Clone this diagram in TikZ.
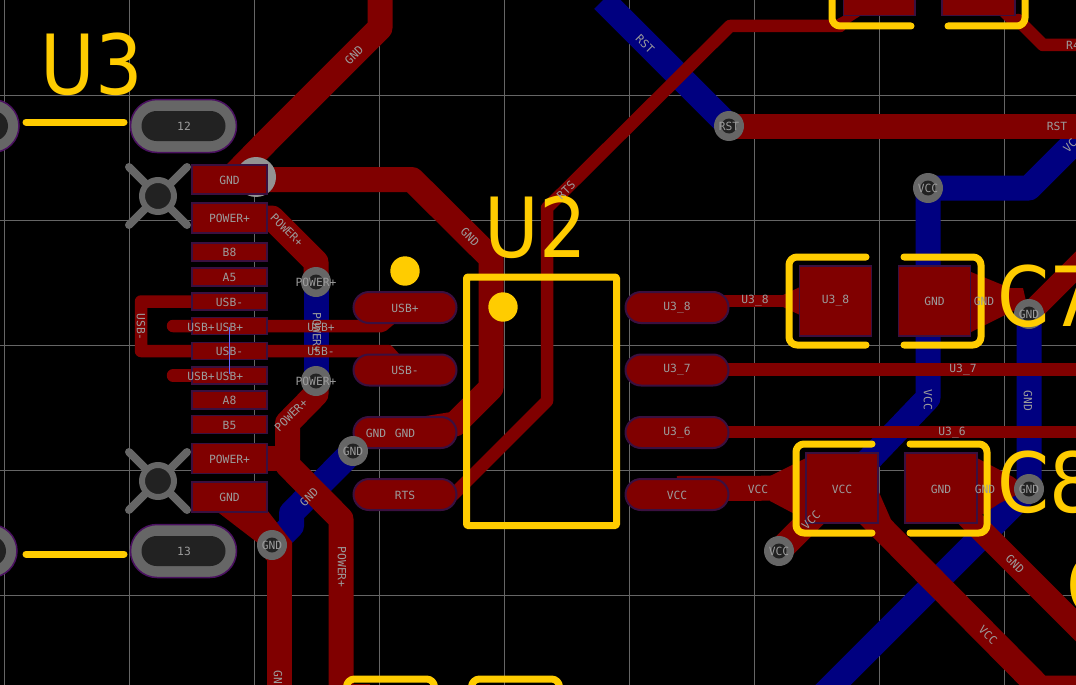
\documentclass[tikz,border=0pt]{standalone}
\usepackage{fontspec}
\usetikzlibrary{shapes.misc}
\newfontfamily\netfont{DejaVu Sans Mono}
\newfontfamily\silkfont{DejaVu Sans}
\definecolor{topcu}{HTML}{800000}
\definecolor{botcu}{HTML}{000080}
\definecolor{silk}{HTML}{FFCC00}
\definecolor{padedge}{HTML}{3A1040}
\definecolor{holeedge}{HTML}{4A1060}
\definecolor{viagray}{HTML}{666666}
\definecolor{holedark}{HTML}{222222}
\definecolor{netgray}{HTML}{9C9C9C}
\tikzset{
  gridline/.style={draw=viagray, line width=0.8pt},
  redwide/.style={draw=topcu, line width=25pt, line join=round},
  redthin/.style={draw=topcu, line width=12.5pt, line join=round, line cap=round},
  bluewide/.style={draw=botcu, line width=25pt, line join=round},
  smdpad/.style={rectangle, draw=padedge, fill=topcu, line width=1.5pt, inner sep=0pt, minimum width=75pt},
  capdpad/.style={rectangle, draw=padedge, fill=topcu, line width=1.5pt, inner sep=0pt, minimum width=72pt, minimum height=70pt},
  ovalpad/.style={rounded rectangle, draw=padedge, fill=topcu, line width=2pt, inner sep=0pt, minimum width=103pt, minimum height=31pt},
  slotpad/.style={rounded rectangle, draw=holeedge, fill=viagray, line width=1.5pt, inner sep=0pt, minimum width=106pt, minimum height=53pt},
  slothole/.style={rounded rectangle, fill=holedark, inner sep=0pt, minimum width=84pt, minimum height=30pt},
  via/.style={circle, fill=viagray, inner sep=0pt, minimum size=30pt},
  viahole/.style={circle, fill=holedark, inner sep=0pt, minimum size=15pt},
  mounthole/.style={circle, fill=holedark, draw=viagray, line width=6pt, inner sep=0pt, minimum size=32pt},
  arm/.style={draw=viagray, line width=8pt, line cap=round},
  silkline/.style={draw=silk, line width=7pt, line cap=round, line join=round, rounded corners=8pt},
  silktext/.style={text=silk, inner sep=0pt, font=\silkfont\fontsize{83}{83}\selectfont, xscale=0.9},
  netlabel/.style={text=netgray, inner sep=0pt, font=\netfont\fontsize{11.3}{12}\selectfont},
}
\begin{document}
\begin{tikzpicture}[x=1pt,y=-1pt]
\useasboundingbox (0,0) rectangle (1076,685);
\clip (0,0) rectangle (1076,685);
\fill[black] (0,0) rectangle (1076,685);
\draw[gridline] (4,0) -- (4,685) (129,0) -- (129,685) (254,0) -- (254,685);
\draw[gridline] (379,0) -- (379,685) (504,0) -- (504,685) (629,0) -- (629,685);
\draw[gridline] (754,0) -- (754,685) (879,0) -- (879,685) (1004,0) -- (1004,685);
\draw[gridline] (0,95) -- (1076,95) (0,220) -- (1076,220) (0,345) -- (1076,345);
\draw[gridline] (0,470) -- (1076,470) (0,595) -- (1076,595);

\coordinate (viaPowerTop) at (316,282);
\coordinate (viaPowerBot) at (316,381);
\coordinate (viaGndMid) at (353,451);
\coordinate (viaGndLow) at (272,545);
\coordinate (viaRst) at (729,126);
\coordinate (viaVccTop) at (928,188);
\coordinate (viaGndC7) at (1029,314);
\coordinate (viaGndC8) at (1029,489);
\coordinate (viaVccLow) at (779,551);
\coordinate (padGndTop) at (229.5,179.5);
\coordinate (padPowerTop) at (229.5,218);
\coordinate (padPowerBot) at (229.5,458.5);
\coordinate (capU38) at (835.5,301);
\coordinate (capGndC7) at (934.5,301);
\coordinate (capVcc) at (842,488);
\coordinate (capGndC8) at (939,488);

% bottom copper
\draw[bluewide] (603,0) -- (viaRst);
\draw[bluewide] (1090,127) -- (1029,188) -- (viaVccTop) -- (928,398) -- (capVcc);
\draw[bluewide] (viaGndC7) -- (viaGndC8) -- (820,698);
\draw[bluewide] (viaPowerTop) -- (viaPowerBot);
\draw[bluewide] (viaGndMid) -- (291.5,513) -- (291.5,526) -- (viaGndLow);

% top copper
\draw[redwide] (380,-5) -- (380,28) -- (268,140) -- (padGndTop);
\draw[redwide] (padGndTop) -- (412,179.5) -- (491,258) -- (491,388) -- (455,424) -- (405,432);
\draw[redwide] (padPowerTop) -- (272,218) -- (316,262) -- (viaPowerTop);
\draw[redwide] (viaPowerBot) -- (316,394) -- (287.5,423) -- (287.5,465) -- (341,519) -- (341,695);
\draw[redwide] (padPowerBot) -- (287.5,458.5);
\fill[topcu] (215,510) -- (258,543) -- (266,560) -- (292,560) -- (292,542) -- (267,510) -- cycle;
\draw[redwide] (279,545) -- (279,695);
\draw[redthin] (229,301.5) -- (141,301.5) -- (141,351) -- (388,351) -- (405,370);
\draw[redthin] (173,326) -- (382,326) -- (405,307);
\draw[redthin] (173,375.5) -- (229,375.5);
\draw[redthin] (405,495) -- (453,495) -- (547,401) -- (547,208) -- (730,26) -- (840,26);
\draw[redthin] (1018,20) -- (1043,45) -- (1085,45);
\draw[redwide] (viaRst) -- (1085,126);
\draw[redthin] (677,301) -- (capU38);
\fill[topcu] (783,295) -- (800,287) -- (800,315) -- (783,307) -- cycle;
\draw[redthin] (677,369.5) -- (1085,369.5);
\draw[redthin] (677,432) -- (1085,432);
\draw[redwide] (677,488.5) -- (capVcc);
\fill[topcu] (770,476) -- (806,458) -- (806,520) -- (770,501) -- cycle;
\draw[redwide] (830,500) -- (viaVccLow);
\draw[redwide] (capVcc) -- (1040,688) -- (1090,688);
\fill[topcu] (878,490) -- (892,522) -- (878,522) -- cycle;
\draw[redwide, line width=23pt] (capGndC8) -- (1100,649);
\fill[topcu] (977,458) -- (1013,477) -- (viaGndC8) -- (1000,503) -- (977,518) -- cycle;
\fill[topcu] (971,272) -- (1010,288) -- (1023,288) -- (viaGndC7) -- (1013,311) -- (971,332) -- cycle;
\draw[draw=topcu, line width=22pt] (viaGndC7) -- (1090,253);
\fill[topcu] (835,32) -- (860,16) -- (843,16) -- (832,22) -- cycle;
\fill[topcu] (1000,16) -- (1016,16) -- (1026,28) -- (1012,28) -- cycle;
\fill[topcu] (352,684) rectangle (370,690);

% small pads clipped by the top edge
\fill[topcu] (843.5,-5) rectangle (915,15.5);
\fill[topcu] (942,-5) rectangle (1015,15.5);
\draw[padedge, line width=1.5pt] (843.5,-5) -- (843.5,15.5) -- (915,15.5) -- (915,-5);
\draw[padedge, line width=1.5pt] (942,-5) -- (942,15.5) -- (1015,15.5) -- (1015,-5);

% connector pads
\fill[gray!85!white] (256,177) circle (20pt);
\node[smdpad, minimum height=29pt] (padGndA) at (padGndTop) {};
\node[smdpad, minimum height=30pt] (padPowerA) at (padPowerTop) {};
\node[smdpad, minimum height=18pt] (padBeight) at (229.5,252) {};
\node[smdpad, minimum height=18pt] (padAfive) at (229.5,277) {};
\node[smdpad, minimum height=17pt] (padUsbMinA) at (229.5,301.5) {};
\node[smdpad, minimum height=17pt] (padUsbPlusA) at (229.5,326) {};
\node[smdpad, minimum height=17pt] (padUsbMinB) at (229.5,351) {};
\node[smdpad, minimum height=17pt] (padUsbPlusB) at (229.5,375.5) {};
\node[smdpad, minimum height=18pt] (padAeight) at (229.5,400) {};
\node[smdpad, minimum height=18pt] (padBfive) at (229.5,424.5) {};
\node[smdpad, minimum height=30pt] (padPowerB) at (padPowerBot) {};
\node[smdpad, minimum height=30pt] (padGndB) at (229.5,497) {};
\draw[blue!60!white, line width=1pt] (229,327) -- (229,374);

\node[slotpad] (slotLeftA) at (-34,126) {};
\node[slothole] at (slotLeftA) (slotLeftAhole) {};
\node[slotpad] (slotA) at (183.5,126) {};
\node[slothole] at (slotA) (slotAhole) {};
\node[slotpad] (slotLeftB) at (-36,551) {};
\node[slothole] at (slotLeftB) (slotLeftBhole) {};
\node[slotpad] (slotB) at (183.5,551) {};
\node[slothole] at (slotB) (slotBhole) {};

\coordinate (mountA) at (158,196);
\coordinate (mountB) at (158,481);
\draw[arm] (129,167) -- (187,225) (187,167) -- (129,225);
\draw[arm] (129,452) -- (187,510) (187,452) -- (129,510);
\node[mounthole] (mountHoleA) at (mountA) {};
\node[mounthole] (mountHoleB) at (mountB) {};

% chip pads
\node[ovalpad] (u2Usbp) at (405,307.5) {};
\node[ovalpad] (u2Usbm) at (405,370) {};
\node[ovalpad] (u2Gnd) at (405,432.5) {};
\node[ovalpad] (u2Rts) at (405,494.5) {};
\node[ovalpad] (u2Eight) at (677,307.5) {};
\node[ovalpad] (u2Seven) at (677,370) {};
\node[ovalpad] (u2Six) at (677,432.5) {};
\node[ovalpad] (u2Vcc) at (677,494.5) {};

% capacitor pads
\node[capdpad] (c7Left) at (capU38) {};
\node[capdpad] (c7Right) at (capGndC7) {};
\node[capdpad] (c8Left) at (capVcc) {};
\node[capdpad] (c8Right) at (941,488) {};

% vias
\node[via] (viaA) at (viaPowerTop) {};
\node[viahole] (viaAhole) at (viaA) {};
\node[via] (viaB) at (viaPowerBot) {};
\node[viahole] (viaBhole) at (viaB) {};
\node[via] (viaC) at (viaGndMid) {};
\node[viahole] (viaChole) at (viaC) {};
\node[via] (viaD) at (viaGndLow) {};
\node[viahole] (viaDhole) at (viaD) {};
\node[via] (viaE) at (viaRst) {};
\node[viahole] (viaEhole) at (viaE) {};
\node[via] (viaF) at (viaVccTop) {};
\node[viahole] (viaFhole) at (viaF) {};
\node[via] (viaG) at (viaGndC7) {};
\node[viahole] (viaGhole) at (viaG) {};
\node[via] (viaH) at (viaGndC8) {};
\node[viahole] (viaHhole) at (viaH) {};
\node[via] (viaI) at (viaVccLow) {};
\node[viahole] (viaIhole) at (viaI) {};

% silkscreen
\draw[silkline, rounded corners=1pt] (466.5,277) rectangle (616.5,525.5);
\fill[silk] (503,307) circle (14.7pt);
\fill[silk] (405,271) circle (14.7pt);
\draw[silkline] (26,122) -- (124,122);
\draw[silkline] (26,554) -- (124,554);
\draw[silkline] (866,257) -- (789,257) -- (789,345) -- (866,345);
\draw[silkline] (904,257) -- (981,257) -- (981,345) -- (904,345);
\draw[silkline] (872,444) -- (796,444) -- (796,533) -- (872,533);
\draw[silkline] (910,444) -- (987,444) -- (987,533) -- (910,533);
\draw[silkline] (832,-10) -- (832,26) -- (911,26);
\draw[silkline] (948,26) -- (1025,26) -- (1025,-10);
\draw[silkline] (346.5,695) -- (346.5,679) -- (434.5,679) -- (434.5,695);
\draw[silkline] (471.5,695) -- (471.5,679) -- (559.5,679) -- (559.5,695);
\node[silktext, anchor=center] (nameU3) at (92,64) {U3};
\node[silktext, anchor=center] (nameU2) at (535.5,227) {U2};
\node[silktext, anchor=west] (nameC7) at (997,296) {C7};
\node[silktext, anchor=west] (nameC8) at (997,482) {C8};
\node[silktext, anchor=west] (nameC9) at (1066,585) {C};

% net names
\node[netlabel] (t01) at (184,126) {12};
\node[netlabel] (t02) at (184,551) {13};
\node[netlabel, rotate=45] (t03) at (354,55) {GND};
\node[netlabel] (t04) at (229.5,180) {GND};
\node[netlabel] (t05) at (229.5,218) {POWER+};
\node[netlabel, rotate=-45] (t06) at (287,230) {POWER+};
\node[netlabel] (t07) at (229.5,252) {B8};
\node[netlabel] (t08) at (229.5,277) {A5};
\node[netlabel] (t09) at (229.5,302) {USB-};
\node[netlabel] (t10) at (229.5,327) {USB+};
\node[netlabel] (t11) at (201,327) {USB+};
\node[netlabel] (t12) at (229.5,351) {USB-};
\node[netlabel] (t13) at (229.5,376) {USB+};
\node[netlabel] (t14) at (201,376) {USB+};
\node[netlabel] (t15) at (229.5,400) {A8};
\node[netlabel] (t16) at (229.5,425) {B5};
\node[netlabel] (t17) at (229.5,459) {POWER+};
\node[netlabel] (t18) at (229.5,497) {GND};
\node[netlabel, rotate=-90] (t19) at (141,327) {USB-};
\node[netlabel] (t20) at (viaPowerTop) {POWER+};
\node[netlabel] (t21) at (viaPowerBot) {POWER+};
\node[netlabel, rotate=-90] (t22) at (317,333) {POWER+};
\node[netlabel] (t23) at (321,327) {USB+};
\node[netlabel] (t24) at (321,351) {USB-};
\node[netlabel, rotate=45] (t25) at (291,415) {POWER+};
\node[netlabel] (t26) at (viaGndMid) {GND};
\node[netlabel] (t27) at (viaGndLow) {GND};
\node[netlabel, rotate=45] (t28) at (309,497) {GND};
\node[netlabel, rotate=-90] (t29) at (342,567) {POWER+};
\node[netlabel, rotate=-90] (t30) at (278,677) {GN};
\node[netlabel] (t31) at (405,308) {USB+};
\node[netlabel] (t32) at (405,370) {USB-};
\node[netlabel] (t33) at (376,433) {GND};
\node[netlabel] (t34) at (405,433) {GND};
\node[netlabel] (t35) at (405,495) {RTS};
\node[netlabel, rotate=-45] (t36) at (470,237) {GND};
\node[netlabel, rotate=45] (t37) at (566,190) {RTS};
\node[netlabel] (t38) at (677,308) {U3\_8};
\node[netlabel] (t39) at (677,370) {U3\_7};
\node[netlabel] (t40) at (677,433) {U3\_6};
\node[netlabel] (t41) at (677,495) {VCC};
\node[netlabel, rotate=-45] (t42) at (645,44) {RST};
\node[netlabel] (t43) at (viaRst) {RST};
\node[netlabel] (t44) at (1057,126) {RST};
\node[netlabel, anchor=west] (t45) at (1066,45) {R4};
\node[netlabel, rotate=45] (t46) at (1070,146) {VC};
\node[netlabel] (t47) at (viaVccTop) {VCC};
\node[netlabel] (t48) at (755,301) {U3\_8};
\node[netlabel] (t49) at (835.5,301) {U3\_8};
\node[netlabel] (t50) at (934.5,301) {GND};
\node[netlabel] (t51) at (984,301) {GND};
\node[netlabel] (t52) at (viaGndC7) {GND};
\node[netlabel] (t53) at (963,370) {U3\_7};
\node[netlabel, rotate=-90] (t54) at (928,400) {VCC};
\node[netlabel, rotate=-90] (t55) at (1028,401) {GND};
\node[netlabel] (t56) at (952,433) {U3\_6};
\node[netlabel] (t57) at (758,489) {VCC};
\node[netlabel] (t58) at (842,489) {VCC};
\node[netlabel] (t59) at (941,489) {GND};
\node[netlabel] (t60) at (985,489) {GND};
\node[netlabel] (t61) at (viaGndC8) {GND};
\node[netlabel, rotate=45] (t62) at (811,520) {VCC};
\node[netlabel] (t63) at (viaVccLow) {VCC};
\node[netlabel, rotate=-45] (t64) at (1015,564) {GND};
\node[netlabel, rotate=-45] (t65) at (988,635) {VCC};
\end{tikzpicture}
\end{document}
